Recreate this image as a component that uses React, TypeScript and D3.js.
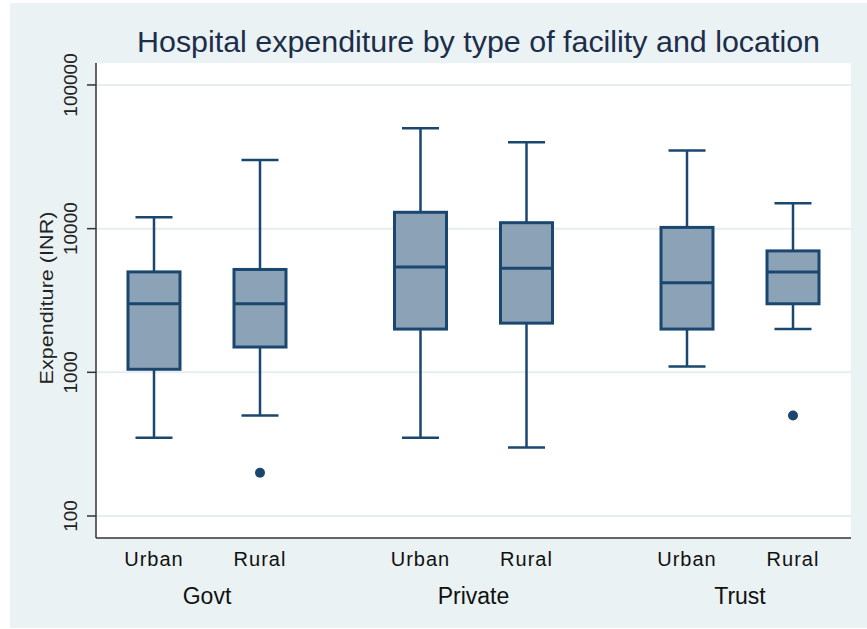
import React from "react";
import * as d3 from "d3";

const groups = ["Govt", "Private", "Trust"];
const locations = ["Urban", "Rural"];
// order: Govt-Urban, Govt-Rural, Private-Urban, Private-Rural, Trust-Urban, Trust-Rural
const boxGroup = ["Govt", "Govt", "Private", "Private", "Trust", "Trust"];
const boxLocation = ["Urban", "Rural", "Urban", "Rural", "Urban", "Rural"];
const whiskerLow = [350, 500, 350, 300, 1100, 2000];
const q1 = [1050, 1500, 2000, 2200, 2000, 3000];
const median = [3000, 3000, 5400, 5300, 4200, 5000];
const q3 = [5000, 5200, 13000, 11000, 10200, 7000];
const whiskerHigh = [12000, 30000, 50000, 40000, 35000, 15000];
const outlierGroup = ["Govt", "Trust"];
const outlierLocation = ["Rural", "Rural"];
const outlierValue = [200, 500];
const yTicks = [100, 1000, 10000, 100000];

const W = 867;
const H = 629;
const plot = { left: 96, right: 851, top: 63, bottom: 538 };

const NAVY = "#1A476F";
const FILL = "#8CA3B7";
const BG = "#EAF2F3";
const GRID = "#E6EEF1";

export default function App() {
  const y = d3
    .scaleLog()
    .domain([70.3, 142200])
    .range([plot.bottom, plot.top]);
  const xg = d3
    .scalePoint<string>()
    .domain(groups)
    .range([plot.left, plot.right])
    .padding(0.4165);
  const xl = d3.scalePoint<string>().domain(locations).range([-53, 53]);
  const cx = (g: string, l: string) => (xg(g) as number) + (xl(l) as number);

  const boxW = 52;
  const capW = 37;

  return (
    <svg
      width={W}
      height={H}
      style={{ position: "absolute", left: 0, top: 0, fontFamily: "Liberation Sans, Arial, sans-serif" }}
    >
      <rect x={0} y={0} width={W} height={H} fill="#fff" />
      <rect x={10} y={3} width={W - 10} height={H - 4} fill={BG} />
      <rect
        x={plot.left}
        y={plot.top}
        width={plot.right - plot.left}
        height={plot.bottom - plot.top}
        fill="#fff"
      />
      <text
        x={137}
        y={52}
        fontSize={29}
        fill="#1C2E4A"
        textLength={683}
        lengthAdjust="spacingAndGlyphs"
      >
        Hospital expenditure by type of facility and location
      </text>
      {/* grid */}
      {yTicks.map((t) => (
        <line
          key={"g" + t}
          x1={plot.left}
          x2={plot.right}
          y1={y(t)}
          y2={y(t)}
          stroke={GRID}
          strokeWidth={2}
        />
      ))}
      {/* axes */}
      <line x1={plot.left} x2={plot.left} y1={plot.top} y2={plot.bottom} stroke="#333" strokeWidth={1.5} />
      <line x1={plot.left} x2={plot.right} y1={plot.bottom} y2={plot.bottom} stroke="#333" strokeWidth={1.5} />
      {yTicks.map((t) => (
        <g key={"t" + t}>
          <line x1={plot.left - 9} x2={plot.left} y1={y(t)} y2={y(t)} stroke="#333" strokeWidth={1.5} />
          <text
            transform={`translate(77,${y(t)}) rotate(-90)`}
            textAnchor="middle"
            fontSize={19}
            fill="#222"
          >
            {t}
          </text>
        </g>
      ))}
      <text
        transform={`translate(53,298) rotate(-90)`}
        textAnchor="middle"
        fontSize={19}
        fill="#222"
        textLength={173}
        lengthAdjust="spacingAndGlyphs"
      >
        Expenditure (INR)
      </text>
      {/* boxes */}
      {boxGroup.map((g, i) => {
        const c = cx(g, boxLocation[i]);
        return (
          <g key={"b" + i}>
            <line x1={c} x2={c} y1={y(whiskerHigh[i])} y2={y(q3[i])} stroke={NAVY} strokeWidth={2.5} />
            <line x1={c} x2={c} y1={y(q1[i])} y2={y(whiskerLow[i])} stroke={NAVY} strokeWidth={2.5} />
            <line
              x1={c - capW / 2}
              x2={c + capW / 2}
              y1={y(whiskerHigh[i])}
              y2={y(whiskerHigh[i])}
              stroke={NAVY}
              strokeWidth={2.5}
            />
            <line
              x1={c - capW / 2}
              x2={c + capW / 2}
              y1={y(whiskerLow[i])}
              y2={y(whiskerLow[i])}
              stroke={NAVY}
              strokeWidth={2.5}
            />
            <rect
              x={c - boxW / 2}
              y={y(q3[i])}
              width={boxW}
              height={y(q1[i]) - y(q3[i])}
              fill={FILL}
              stroke={NAVY}
              strokeWidth={3}
            />
            <line
              x1={c - boxW / 2}
              x2={c + boxW / 2}
              y1={y(median[i])}
              y2={y(median[i])}
              stroke={NAVY}
              strokeWidth={3}
            />
          </g>
        );
      })}
      {outlierGroup.map((g, i) => (
        <circle key={"o" + i} cx={cx(g, outlierLocation[i])} cy={y(outlierValue[i])} r={5} fill={NAVY} />
      ))}
      {/* x labels */}
      {groups.map((g) =>
        locations.map((l) => (
          <text
            key={g + l}
            x={cx(g, l)}
            y={566}
            textAnchor="middle"
            fontSize={20}
            fill="#111"
            letterSpacing={1}
          >
            {l}
          </text>
        ))
      )}
      {groups.map((g) => (
        <text key={"gl" + g} x={xg(g)} y={604} textAnchor="middle" fontSize={23} fill="#111">
          {g}
        </text>
      ))}
    </svg>
  );
}
